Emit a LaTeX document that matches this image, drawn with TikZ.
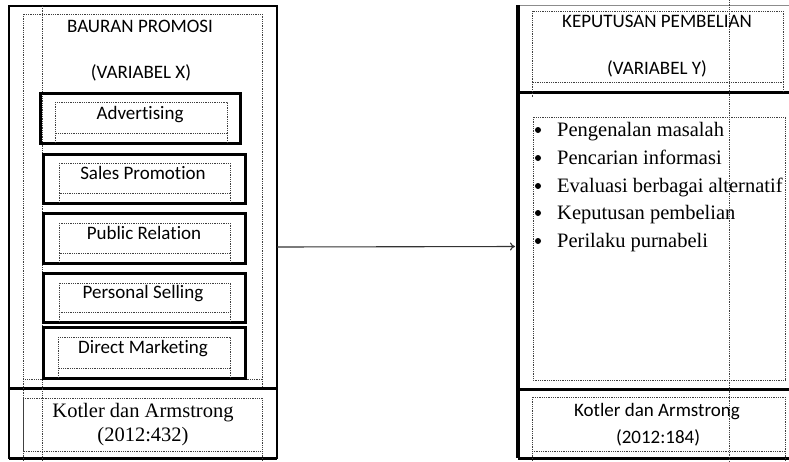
\documentclass[tikz,border=0pt]{standalone}
\usepackage{fontspec}
\setmainfont{Liberation Serif}
\newfontfamily\calib[Ligatures=NoCommon]{Carlito}
\usetikzlibrary{arrows.meta}
\begin{document}
\begin{tikzpicture}[x=1pt,y=-1pt,
  dotln/.style={draw=black!75, line width=0.7pt, dash pattern=on 0.9pt off 0.9pt},
  itembox/.style={draw, line width=3pt, anchor=north west, outer sep=0pt, inner sep=0pt},
  sanslbl/.style={font=\calib\fontsize{19}{23}\selectfont, anchor=base, inner sep=0pt},
  seriflbl/.style={font=\fontsize{20.5}{25}\selectfont, anchor=base, inner sep=0pt},
  itemlbl/.style={font=\fontsize{20.5}{25}\selectfont, anchor=base west, inner sep=0pt},
  bul/.style={circle, fill=black, inner sep=0pt, minimum size=6pt},
  arr/.style={-{To[length=5pt,width=8pt]}, draw=black!80, line width=1.1pt}]
\useasboundingbox (0,0) rectangle (789,461);

% ---------- left block ----------
\node[draw, line width=2.2pt, anchor=north west, outer sep=0pt, inner sep=0pt,
      minimum width=268pt, minimum height=452pt] (lbox) at (9,6) {};
\draw[line width=3pt] (9,388) -- (277,388);
\draw[line width=3pt] (9,458) -- (277,458);

% dotted guides (left)
\draw[dotln] (23,14) rectangle (262,379);
\draw[dotln] (23,379) -- (23,388) (262,379) -- (262,388);
\draw[dotln] (42,6) -- (42,461);
\draw[dotln] (23,398) rectangle (262,451);
\draw[dotln] (23,388) -- (23,461) (262,451) -- (262,461);

% item boxes
\node[itembox, minimum width=200pt, minimum height=50pt] (adv) at (40,93) {};
\node[itembox, minimum width=202pt, minimum height=49pt] (sp) at (43,154) {};
\node[itembox, minimum width=202pt, minimum height=50pt] (pr) at (43,213) {};
\node[itembox, minimum width=202pt, minimum height=49pt] (ps) at (43,273) {};
\node[itembox, minimum width=202pt, minimum height=51pt] (dm) at (43,327) {};

\draw[dotln] (55,102) rectangle (227,133) (55,133) -- (55,143) (227,133) -- (227,143);
\draw[dotln] (59,163) rectangle (230,193) (59,193) -- (59,203) (230,193) -- (230,203);
\draw[dotln] (59,223) rectangle (230,253) (59,253) -- (59,263) (230,253) -- (230,263);
\draw[dotln] (59,283) rectangle (230,312) (59,312) -- (59,322) (230,312) -- (230,322);
\draw[dotln] (58,337) rectangle (230,368) (58,368) -- (58,378) (230,368) -- (230,378);

% left texts
\node[sanslbl] (tbp) at (140,32) {BAURAN PROMOSI};
\node[sanslbl] (tvx) at (141,78) {(VARIABEL X)};
\node[sanslbl] (tadv) at (140,119) {Advertising};
\node[sanslbl] (tsp) at (143,179) {Sales Promotion};
\node[sanslbl] (tpr) at (144,239) {Public Relation};
\node[sanslbl] (tps) at (143,298) {Personal Selling};
\node[sanslbl] (tdm) at (143,353) {Direct Marketing};
\node[seriflbl] (tk1) at (143,417) {Kotler dan Armstrong};
\node[seriflbl] (ty1) at (143,441) {(2012:432)};

% ---------- right block ----------
\node[anchor=north west, outer sep=0pt, inner sep=0pt,
      minimum width=290pt, minimum height=453pt] (rbox) at (518,5) {};
\draw[draw=black!45, line width=1pt] (rbox.north west) -- (789,5);
\draw[line width=3.5pt] (rbox.north west) -- (518,458);
\draw[line width=3pt] (518,92) -- (789,92);
\draw[line width=3pt] (518,389) -- (789,389);
\draw[line width=3pt] (518,458) -- (789,458);

% dotted guides (right)
\draw[dotln] (532,11) rectangle (783,82);
\draw[dotln] (532,82) -- (532,97) (783,82) -- (783,92);
\draw[dotln] (729,0) -- (729,461);
\draw[dotln] (533,117) rectangle (785,380);
\draw[dotln] (532,397) rectangle (785,451);
\draw[dotln] (532,451) -- (532,461) (785,451) -- (785,461);

% right texts
\node[sanslbl] (tkp) at (657,27) {KEPUTUSAN PEMBELIAN};
\node[sanslbl] (tvy) at (657,74) {(VARIABEL Y)};

\node[bul] (b1) at (538,130) {};
\node[bul] (b2) at (538,158) {};
\node[bul] (b3) at (538,186) {};
\node[bul] (b4) at (538,213) {};
\node[bul] (b5) at (538,241) {};
\node[itemlbl] (i1) at (557,136) {Pengenalan masalah};
\node[itemlbl] (i2) at (557,164) {Pencarian informasi};
\node[itemlbl] (i3) at (557,192) {Evaluasi berbagai alternatif};
\node[itemlbl] (i4) at (557,219) {Keputusan pembelian};
\node[itemlbl] (i5) at (557,247) {Perilaku purnabeli};

\node[sanslbl] (tk2) at (657,416) {Kotler dan Armstrong};
\node[sanslbl] (ty2) at (658,443) {(2012:184)};

% ---------- connector ----------
\draw[arr, shorten >=3pt] ([yshift=-15pt]lbox.east) -- ([yshift=-15pt]rbox.west);
\end{tikzpicture}
\end{document}
